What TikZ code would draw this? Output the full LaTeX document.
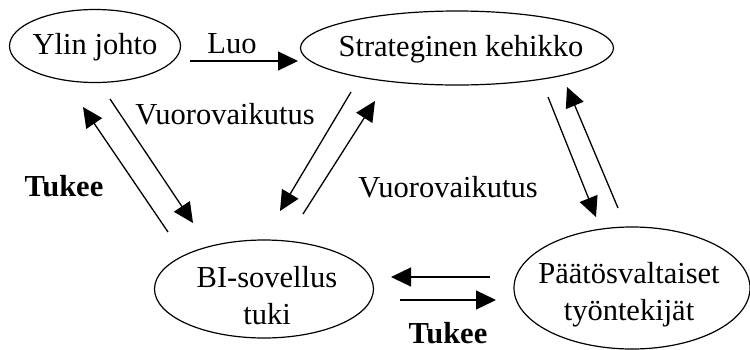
\documentclass[tikz,border=0pt]{standalone}
\usepackage{fontspec}
\setmainfont{Liberation Serif}
\usetikzlibrary{shapes.geometric,arrows.meta}
\begin{document}
\begin{tikzpicture}[x=1pt,y=-1pt,
  every node/.style={font=\fontsize{30.5}{37}\selectfont},
  bubble/.style={draw,ellipse,line width=1.2pt,inner sep=0pt},
  link/.style={line width=1.3pt,-{Triangle[length=20pt,width=19pt]}},
  tag/.style={inner sep=0pt,align=center},
  boldtag/.style={inner sep=0pt,font=\fontsize{30.5}{37}\selectfont\bfseries}]
\useasboundingbox (0,0) rectangle (750,349);

% ellipses, with their texts set on top
\node[bubble,minimum width=171pt,minimum height=73pt] (top) at (95,46) {};
\node[bubble,minimum width=313pt,minimum height=74pt] (frame) at (457,48) {};
\node[bubble,minimum width=219pt,minimum height=98pt] (bi) at (264,289) {};
\node[bubble,minimum width=236pt,minimum height=122pt] (staff) at (632,288) {};
\node[tag] (topText) at ([yshift=-1pt]top.center) {Ylin johto};
\node[tag] (frameText) at ([xshift=4pt,yshift=-1pt]frame.center) {Strateginen kehikko};
\node[tag] (biText) at ([xshift=3pt,yshift=-7pt]bi.center) {BI-sovellus\\tuki};
\node[tag] (staffText) at ([xshift=-3pt,yshift=-7pt]staff.center) {Päätösvaltaiset\\työntekijät};

% end points of the paired connectors
\coordinate (luoA) at (190,61);   \coordinate (luoB) at (298,61);
\coordinate (t1a) at (168,232);   \coordinate (t1b) at (83,107);
\coordinate (t2a) at (110,99);    \coordinate (t2b) at (193,223);
\coordinate (v1a) at (351,92);    \coordinate (v1b) at (280,211);
\coordinate (v2a) at (303,214);   \coordinate (v2b) at (375,101);
\coordinate (s1a) at (548,97);    \coordinate (s1b) at (596,217);
\coordinate (s2a) at (618,208);   \coordinate (s2b) at (567,87);
\coordinate (h1a) at (490,277);   \coordinate (h1b) at (391,277);
\coordinate (h2a) at (400,300);   \coordinate (h2b) at (496,300);

% connectors
\draw[link] (luoA) -- (luoB);
\draw[link] (t1a) -- (t1b);
\draw[link] (t2a) -- (t2b);
\draw[link] (v1a) -- (v1b);
\draw[link] (v2a) -- (v2b);
\draw[link] (s1a) -- (s1b);
\draw[link] (s2a) -- (s2b);
\draw[link] (h1a) -- (h1b);
\draw[link] (h2a) -- (h2b);

% labels
\node[tag] (luo) at (232,44) {Luo};
\node[tag] (vv1) at (225,114) {Vuorovaikutus};
\node[tag] (vv2) at (448,187) {Vuorovaikutus};
\node[boldtag] (tk1) at (64,186) {Tukee};
\node[boldtag] (tk2) at (448,333) {Tukee};
\end{tikzpicture}
\end{document}
